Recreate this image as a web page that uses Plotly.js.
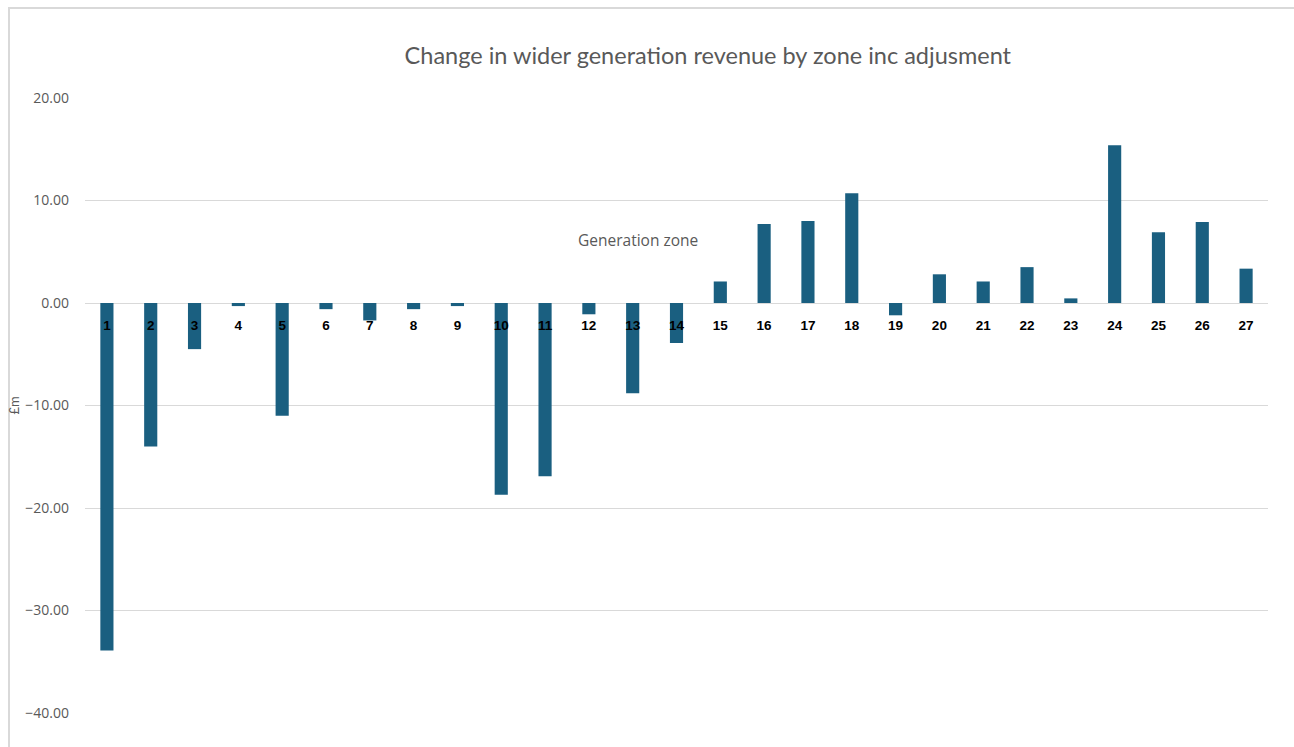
<!DOCTYPE html>
<html>
<head>
<meta charset="utf-8">
<script src="https://cdn.plot.ly/plotly-3.0.1.min.js"></script>
<style>
  body { margin: 0; background: #fff; }
  #frame { position: absolute; left: 8px; top: 7px; width: 1300px; height: 760px;
           border-top: 2px solid #d9d9d9; border-left: 2px solid #d9d9d9; }
  #chart { position: absolute; left: 0; top: 0; width: 1294px; height: 747px; }
</style>
</head>
<body>
<div id="frame"></div>
<div id="chart"></div>
<script>
// generation zones 1..27
var zones = ['1', '2', '3', '4', '5', '6', '7', '8', '9', '10', '11', '12', '13', '14',
  '15', '16', '17', '18', '19', '20', '21', '22', '23', '24', '25', '26', '27'];

// change in revenue, £m
var revenueChange = [-33.9, -14.0, -4.5, -0.3, -11.0, -0.6, -1.7, -0.6, -0.3, -18.7,
  -16.9, -1.1, -8.8, -3.9, 2.1, 7.7, 8.0, 10.7, -1.2, 2.8, 2.1, 3.5, 0.45, 15.4,
  6.9, 7.9, 3.35];

var yTicks = [-40, -30, -20, -10, 0, 10, 20];

var data = [{
  type: 'bar',
  x: zones,
  y: revenueChange,
  marker: { color: '#1a5f80', line: { width: 0 } },
  hoverinfo: 'x+y'
}];

var layout = {
  width: 1294,
  height: 747,
  margin: { l: 85, r: 26, t: 98, b: 34 },
  paper_bgcolor: 'rgba(0,0,0,0)',
  plot_bgcolor: 'rgba(0,0,0,0)',
  showlegend: false,
  bargap: 0.7,
  font: { family: 'Lato, "Open Sans", sans-serif', color: '#595959' },
  title: {
    text: 'Change in wider generation revenue by zone inc adjusment',
    font: { size: 23.5, color: '#595959', family: 'Lato, sans-serif' },
    xref: 'container', x: 0.547, xanchor: 'center',
    yref: 'container', y: 0.925, yanchor: 'middle'
  },
  xaxis: {
    type: 'category',
    anchor: 'free',
    position: 0.6662,
    showgrid: false,
    showline: false,
    zeroline: false,
    ticks: 'outside',
    ticklen: 10,
    tickcolor: 'rgba(0,0,0,0)',
    tickfont: { family: '"Liberation Sans", Arial, sans-serif', size: 13.5, color: '#000', weight: 'bold' }
  },
  yaxis: {
    range: [-40, 20],
    tickvals: yTicks,
    tickformat: '.2f',
    showgrid: true,
    gridcolor: '#d9d9d9',
    gridwidth: 1,
    zeroline: true,
    zerolinecolor: '#d9d9d9',
    zerolinewidth: 1,
    showline: false,
    ticks: '',
    ticklabelstandoff: 15,
    tickfont: { size: 14, color: '#595959', family: '"Open Sans", sans-serif' },
    title: { text: '£m', standoff: 2, font: { size: 13, color: '#595959' } }
  },
  annotations: [{
    text: 'Generation zone',
    xref: 'paper', yref: 'paper',
    x: 0.4675, y: 0.769,
    xanchor: 'center', yanchor: 'middle',
    showarrow: false,
    font: { size: 15.5, color: '#595959', family: '"Open Sans", sans-serif' }
  }]
};

Plotly.newPlot('chart', data, layout, { displayModeBar: false, staticPlot: true });
</script>
</body>
</html>
